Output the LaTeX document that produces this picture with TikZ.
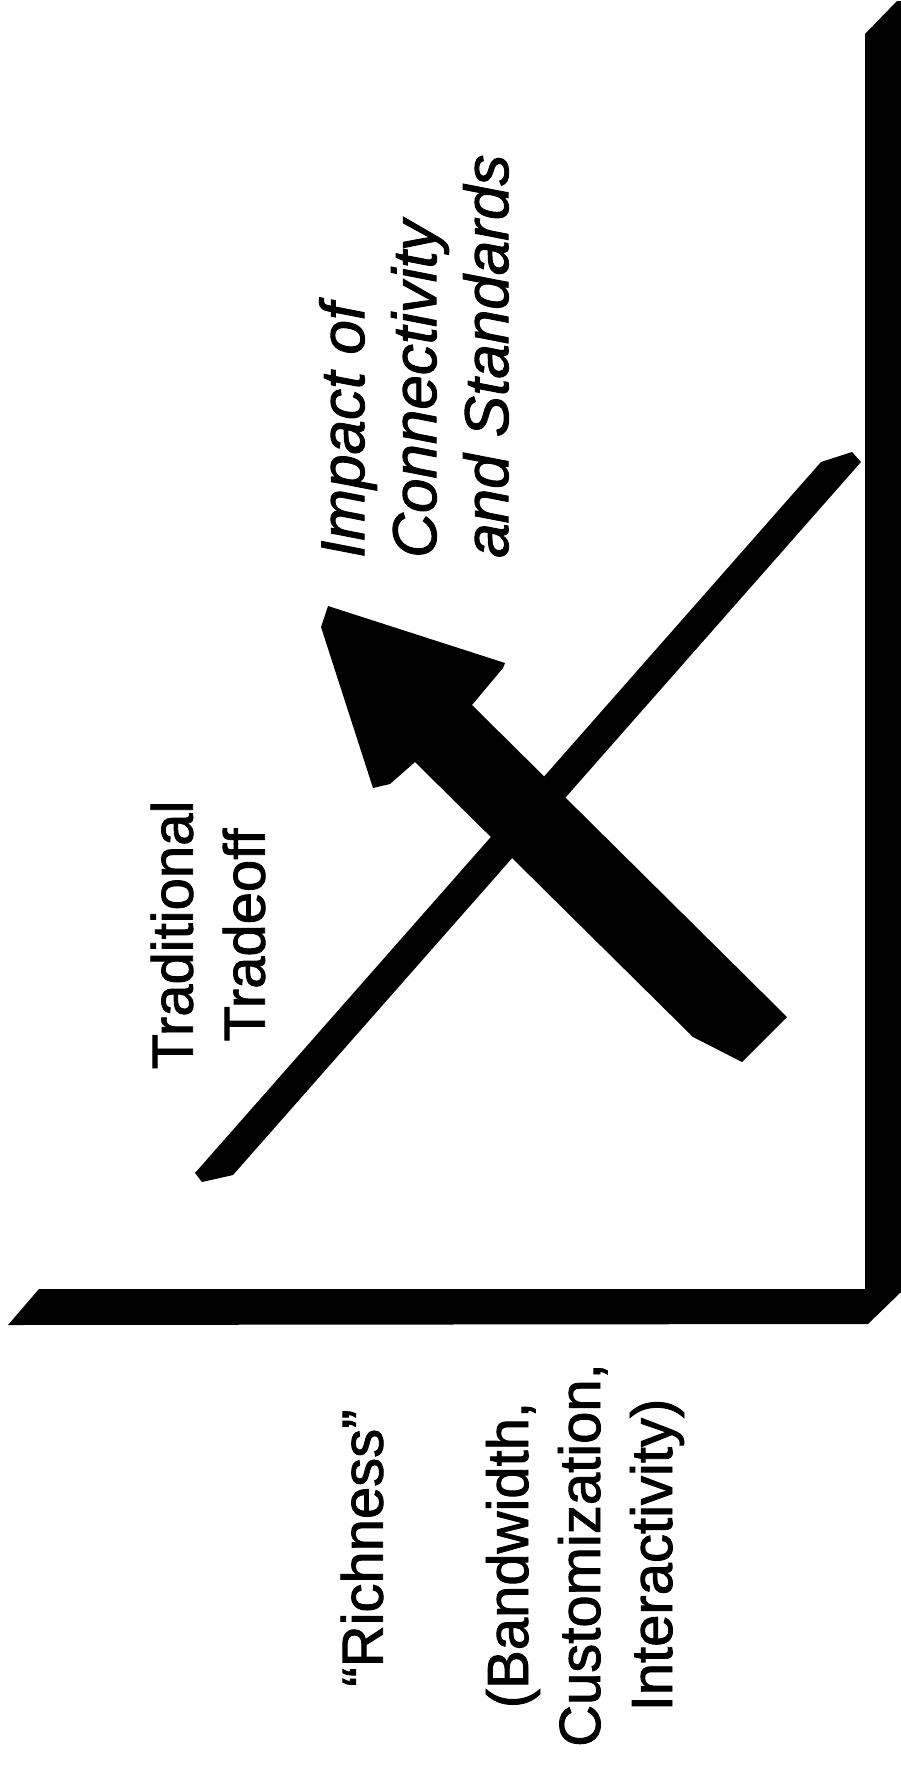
\documentclass[tikz,border=0pt]{standalone}
\usepackage{fontspec}
\setmainfont{Liberation Sans}
\begin{document}
\begin{tikzpicture}[x=1pt,y=-1pt,
  lbl/.style={inner sep=0pt, rotate=90, font=\addfontfeature{FakeBold=1.5}\fontsize{58}{72}\selectfont},
  ital/.style={inner sep=0pt, rotate=90, font=\itshape\addfontfeature{FakeBold=1.5}\fontsize{62}{72}\selectfont},
  solidshape/.style={fill=black}]
\fill[white] (0,0) rectangle (901,1770);
\useasboundingbox (0,0) rectangle (901,1770);
% axes (L shape)
\fill[solidshape] (39,1289) -- (865,1289) -- (865,34) -- (897,1) -- (901,1) -- (901,1292) -- (868,1324) -- (8,1325) -- cycle;
% traditional tradeoff bar
\fill[solidshape] (195,1173) -- (821,462) -- (852,452) -- (861,462) -- (233,1175) -- (202,1182) -- cycle;
% big arrow
\fill[solidshape] (328,606) -- (505,663) -- (503,668) -- (472,705) -- (787,1017) -- (742,1062) -- (693,1037) -- (415,762) -- (390,784) -- (373,788) -- (321,627) -- cycle;
% labels
\node[lbl, align=center] (trad) at (208,935) {Traditional\\Tradeoff};
\node[ital, align=left, anchor=north west] (impact) at (319,558) {Impact of\\Connectivity\\and Standards};
\node[lbl] (rich) at (362,1548) {“Richness”};
\node[lbl, align=center] (bw) at (585,1555) {(Bandwidth,\\Customization,\\Interactivity)};
\end{tikzpicture}
\end{document}
